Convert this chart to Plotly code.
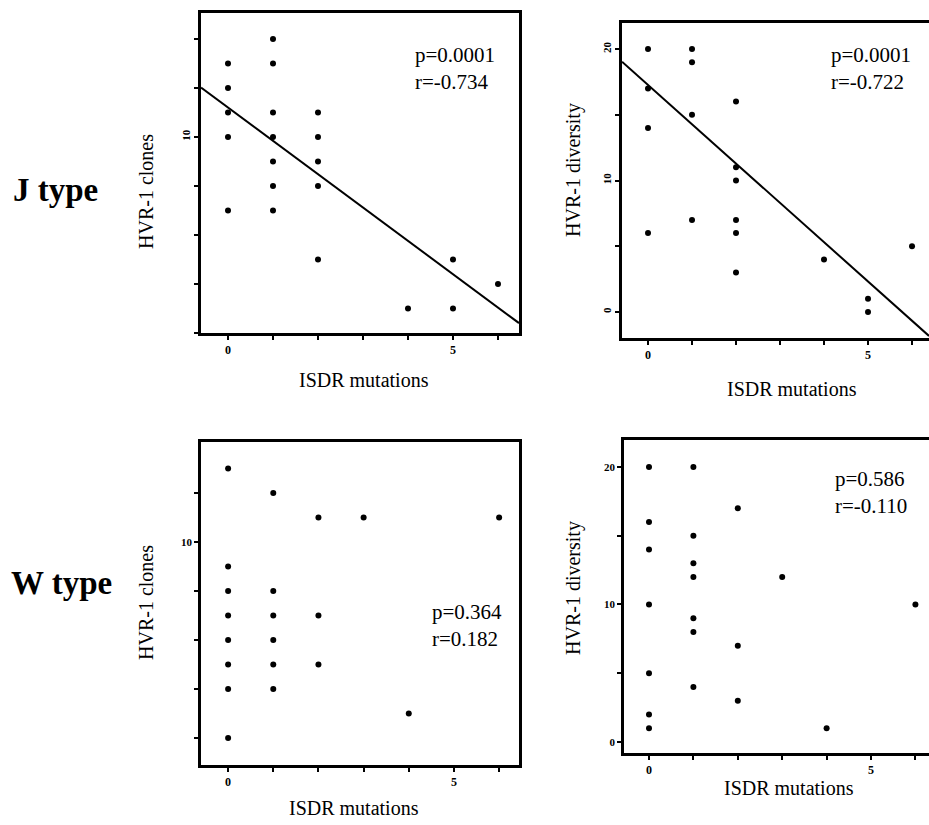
import plotly.graph_objects as go

W, H = 929, 825

# ---- data ----
j_clones_x = [0, 0, 0, 0, 0, 1, 1, 1, 1, 1, 1, 1, 2, 2, 2, 2, 2, 4, 5, 5, 6]
j_clones_y = [13, 12, 11, 10, 7, 14, 13, 11, 10, 9, 8, 7, 11, 10, 9, 8, 5, 3, 5, 3, 4]
j_clones_fit = [11.2, -1.36]          # intercept, slope
j_clones_stats = ["p=0.0001", "r=-0.734"]

j_div_x = [0, 0, 0, 0, 1, 1, 1, 1, 2, 2, 2, 2, 2, 2, 4, 5, 5, 6]
j_div_y = [20, 17, 14, 6, 20, 19, 15, 7, 16, 11, 10, 7, 6, 3, 4, 1, 0, 5]
j_div_fit = [17.27, -2.99]
j_div_stats = ["p=0.0001", "r=-0.722"]

w_clones_x = [0, 0, 0, 0, 0, 0, 0, 0, 1, 1, 1, 1, 1, 1, 2, 2, 2, 3, 4, 6]
w_clones_y = [13, 9, 8, 7, 6, 5, 4, 2, 12, 8, 7, 6, 5, 4, 11, 7, 5, 11, 3, 11]
w_clones_stats = ["p=0.364", "r=0.182"]

w_div_x = [0, 0, 0, 0, 0, 0, 0, 1, 1, 1, 1, 1, 1, 1, 2, 2, 2, 3, 4, 6]
w_div_y = [20, 16, 14, 10, 5, 2, 1, 20, 15, 13, 12, 9, 8, 4, 17, 7, 3, 12, 1, 10]
w_div_stats = ["p=0.586", "r=-0.110"]

x_ticks = [0, 1, 2, 3, 4, 5, 6]
x_ticktext = ["0", "", "", "", "", "5", ""]
clones_j_ticks = [2, 4, 6, 8, 10, 12, 14]
clones_w_ticks = [2, 4, 6, 8, 10, 12]
div_ticks = [0, 5, 10, 15, 20]

row_labels = ["J type", "W type"]
x_title = "ISDR mutations"
y_titles = ["HVR-1 clones", "HVR-1 diversity", "HVR-1 clones", "HVR-1 diversity"]

SERIF = "Liberation Serif"

def px(x):
    return x / W

def py(y):
    return 1 - y / H

fig = go.Figure()

panels = [
    dict(xd=(201, 519), yd=(13, 333), xr=[-0.6, 6.467], yr=[2.0, 15.06],
         yt=clones_j_ticks, ytt=["" if v != 10 else "10" for v in clones_j_ticks],
         mirror_y=True, tangle=-90),
    dict(xd=(622, 929), yd=(23, 338), xr=[-0.591, 6.386], yr=[-1.98, 21.98],
         yt=div_ticks, ytt=["0", "", "10", "", "20"], mirror_y=False, tangle=-90),
    dict(xd=(201, 519), yd=(442, 765), xr=[-0.6, 6.44], yr=[0.9, 14.08],
         yt=clones_w_ticks, ytt=["" if v != 10 else "10" for v in clones_w_ticks],
         mirror_y=True, tangle=0),
    dict(xd=(624, 929), yd=(440, 753), xr=[-0.563, 6.306], yr=[-0.8, 21.96],
         yt=div_ticks, ytt=["0", "", "10", "", "20"], mirror_y=False, tangle=0),
]

series = [
    (j_clones_x, j_clones_y, j_clones_fit),
    (j_div_x, j_div_y, j_div_fit),
    (w_clones_x, w_clones_y, None),
    (w_div_x, w_div_y, None),
]

layout = dict(
    width=W, height=H,
    margin=dict(l=0, r=0, t=0, b=0),
    paper_bgcolor="white", plot_bgcolor="white",
    showlegend=False,
    font=dict(family=SERIF, color="black"),
)

for i, (p, (sx, sy, fit)) in enumerate(zip(panels, series)):
    n = "" if i == 0 else str(i + 1)
    xa, ya = "x" + n, "y" + n
    layout["xaxis" + n] = dict(
        domain=[px(p["xd"][0]), min(1.0, px(p["xd"][1]))],
        range=p["xr"], anchor=ya,
        showgrid=False, zeroline=False,
        showline=True, linecolor="black", linewidth=2.5, mirror=True,
        ticks="outside", ticklen=4, tickwidth=1.5, tickcolor="black",
        tickvals=x_ticks, ticktext=x_ticktext,
        tickfont=dict(family=SERIF, size=12, color="black", weight="bold"),
    )
    layout["yaxis" + n] = dict(
        domain=[py(p["yd"][1]), py(p["yd"][0])],
        range=p["yr"], anchor=xa,
        showgrid=False, zeroline=False,
        showline=True, linecolor="black", linewidth=2.5, mirror=p["mirror_y"],
        ticks="outside", ticklen=4, tickwidth=1.5, tickcolor="black",
        tickvals=p["yt"], ticktext=p["ytt"], tickangle=p["tangle"],
        tickfont=dict(family=SERIF, size=11, color="black", weight="bold"),
    )
    fig.add_trace(go.Scatter(
        x=sx, y=sy, mode="markers", xaxis=xa, yaxis=ya,
        marker=dict(size=6, color="black"),
    ))
    if fit is not None:
        x0, x1 = p["xr"]
        fig.add_trace(go.Scatter(
            x=[x0, x1], y=[fit[0] + fit[1] * x0, fit[0] + fit[1] * x1],
            mode="lines", xaxis=xa, yaxis=ya,
            line=dict(color="black", width=2),
        ))

fig.update_layout(**layout)

ann = []
stats_pos = [(413, 41), (829, 41), (430, 598), (833, 465)]
for (sx_, sy_), st in zip(stats_pos, [j_clones_stats, j_div_stats, w_clones_stats, w_div_stats]):
    ann.append(dict(xref="paper", yref="paper", x=px(sx_), y=py(sy_),
                    xanchor="left", yanchor="top", align="left", showarrow=False,
                    text="<br>".join(st), font=dict(family=SERIF, size=21, color="black")))

for (cx, cy) in [(364, 380), (792, 389), (354, 808), (789, 788)]:
    ann.append(dict(xref="paper", yref="paper", x=px(cx), y=py(cy),
                    xanchor="center", yanchor="middle", showarrow=False,
                    text=x_title, font=dict(family=SERIF, size=20, color="black")))

for (cx, cy), t in zip([(146, 192), (573, 170), (146, 603), (573, 588)], y_titles):
    ann.append(dict(xref="paper", yref="paper", x=px(cx), y=py(cy),
                    xanchor="center", yanchor="middle", showarrow=False, textangle=-90,
                    text=t, font=dict(family=SERIF, size=20, color="black")))

for (cx, cy), t in zip([(55, 190), (61, 583)], row_labels):
    ann.append(dict(xref="paper", yref="paper", x=px(cx), y=py(cy),
                    xanchor="center", yanchor="middle", showarrow=False,
                    text="<b>" + t + "</b>", font=dict(family=SERIF, size=33, color="black")))

fig.update_layout(annotations=ann)
fig.write_html("out.html", config={"displayModeBar": False},
               post_script="document.body.style.margin='0';")
